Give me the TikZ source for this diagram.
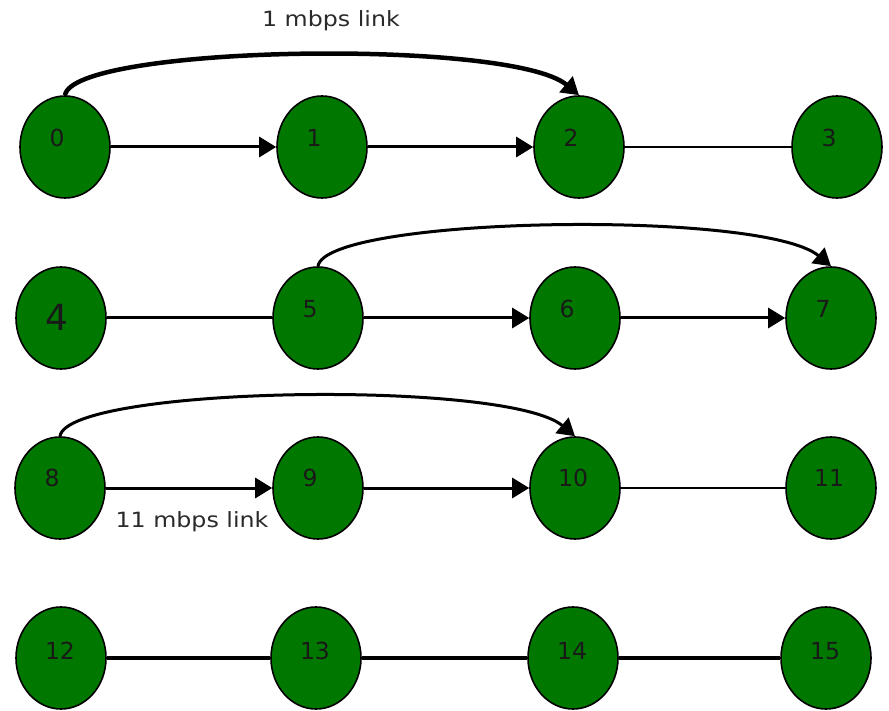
\documentclass[tikz,border=0pt]{standalone}
\usepackage{fontspec}
\setmainfont{DejaVu Sans}
\newfontfamily\lnkfont[FakeStretch=1.13]{DejaVu Sans}
\usetikzlibrary{shapes.geometric,arrows.meta}
\definecolor{nodegreen}{HTML}{007800}
\definecolor{lbltext}{HTML}{2A2A2A}
\tikzset{
  vtx/.style={ellipse, draw=black, line width=1.6pt, fill=nodegreen,
              minimum width=90pt, minimum height=102pt, inner sep=0pt},
  num/.style={anchor=center, inner sep=0pt, xshift=-8pt, yshift=9pt,
              text=black!90, font=\fontsize{23.5}{26}\selectfont},
  numtwo/.style={num, xshift=6pt},
  numlow/.style={num, xshift=7pt, yshift=-2pt},
  arr/.style={line width=3pt, -{Triangle[length=17pt,width=20pt]}},
  thinlink/.style={line width=2pt},
  plainlink/.style={line width=3pt},
  bottomlink/.style={line width=3.5pt},
  hop/.style={line width=3pt, -{Triangle[length=17pt,width=20pt]}},
  hopthick/.style={line width=4.5pt, -{Triangle[length=17pt,width=20pt]}},
  linktext/.style={anchor=base, inner sep=0pt, text=lbltext,
                   font=\lnkfont\fontsize{21}{24}\selectfont}
}
\begin{document}
\begin{tikzpicture}[x=1pt,y=-1pt]
\useasboundingbox (0,0) rectangle (889,711);
% row 1
\node[vtx, label={[num]center:0}] (n0) at (65,147) {};
\node[vtx, label={[num]center:1}] (n1) at (322,147) {};
\node[vtx, label={[num]center:2}] (n2) at (579,147) {};
\node[vtx, label={[num]center:3}] (n3) at (837,147) {};
% row 2
\node[vtx, label={[num, xshift=4pt, yshift=-8pt, font=\fontsize{36}{40}\selectfont]center:4}] (n4) at (61,318) {};
\node[vtx, label={[num]center:5}] (n5) at (318,318) {};
\node[vtx, label={[num]center:6}] (n6) at (575,318) {};
\node[vtx, label={[num]center:7}] (n7) at (831,318) {};
% row 3
\node[vtx, label={[num, yshift=1pt]center:8}] (n8) at (60,488) {};
\node[vtx, label={[num, yshift=1pt]center:9}] (n9) at (318,488) {};
\node[vtx, label={[numtwo, yshift=1pt]center:10}] (n10) at (575,488) {};
\node[vtx, label={[numtwo, yshift=1pt]center:11}] (n11) at (831,488) {};
% row 4
\node[vtx, label={[numlow]center:12}] (n12) at (61,658) {};
\node[vtx, label={[numlow]center:13}] (n13) at (316,658) {};
\node[vtx, label={[numlow]center:14}] (n14) at (573,658) {};
\node[vtx, label={[numlow]center:15}] (n15) at (826,658) {};
% row 1 links
\draw[arr] (n0.east) -- (n1.west);
\draw[arr] (n1.east) -- (n2.west);
\draw[thinlink] (n2.east) -- (n3.west);
\draw[hopthick] (n0.north) .. controls +(8,-50) and +(-68,-57) .. (n2.north);
% row 2 links
\draw[plainlink] (n4.east) -- (n5.west);
\draw[arr] (n5.east) -- (n6.west);
\draw[arr] (n6.east) -- (n7.west);
\draw[hop] (n5.north) .. controls +(8,-50) and +(-68,-57) .. (n7.north);
% row 3 links
\draw[arr] (n8.east) -- (n9.west);
\draw[arr] (n9.east) -- (n10.west);
\draw[thinlink] (n10.east) -- (n11.west);
\draw[hop] (n8.north) .. controls +(8,-50) and +(-68,-57) .. (n10.north);
% row 4 links
\draw[bottomlink] (n12.east) -- (n13.west);
\draw[bottomlink] (n13.east) -- (n14.west);
\draw[bottomlink] (n14.east) -- (n15.west);
% link labels
\node[linktext] (t1) at (331,27) {1 mbps link};
\node[linktext] (t11) at (192,527) {11 mbps link};
\end{tikzpicture}
\end{document}
